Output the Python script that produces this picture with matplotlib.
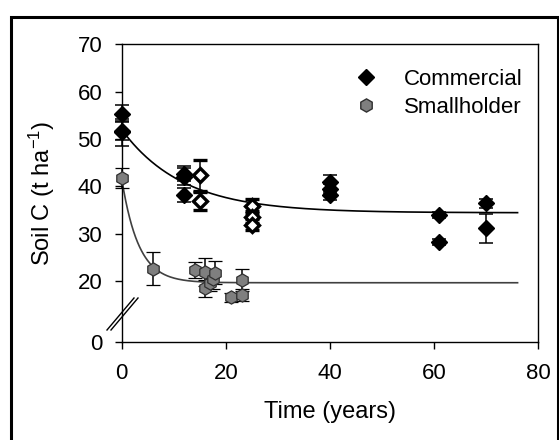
import numpy as np
import matplotlib
matplotlib.use("Agg")
import matplotlib.pyplot as plt
from matplotlib.lines import Line2D
from matplotlib.patches import Rectangle

plt.rcParams['font.family'] = ['Liberation Sans', 'DejaVu Sans']
plt.rcParams['mathtext.fontset'] = 'custom'
plt.rcParams['mathtext.rm'] = 'Liberation Sans'
plt.rcParams['mathtext.it'] = 'Liberation Sans:italic'

# commercial plantations, filled diamonds
com_x = [0, 0, 0, 12, 12, 12, 40, 40, 40, 61, 61, 70, 70]
com_y = [55.4, 51.8, 51.4, 42.7, 42.0, 38.1, 40.9, 39.5, 38.1, 33.9, 28.2, 36.4, 31.1]
com_err = [1.7, 2.0, 2.8, 1.5, 1.8, 1.5, 1.4, 1.0, 1.0, 0.6, 0.6, 1.0, 3.0]

# commercial, open diamonds
open_x = [15, 15, 25, 25, 25]
open_y = [42.3, 36.8, 35.9, 33.5, 31.9]
open_err = [3.2, 1.9, 1.5, 1.2, 1.2]

# smallholder, grey hexagons
sm_x = [0, 6, 14, 16, 16, 17, 17.5, 18, 21, 23, 23]
sm_y = [41.7, 22.6, 22.2, 21.9, 18.4, 19.6, 20.3, 21.7, 16.5, 20.2, 17.0]
sm_err = [2.1, 3.4, 1.7, 3.0, 1.8, 1.8, 2.0, 2.4, 1.0, 2.3, 1.3]

# fitted exponential decay curves: start, asymptote, rate
com_fit = (52.0, 34.4, 0.085)
sm_fit = (41.6, 19.6, 0.31)
t_end = 76


def fwd(y):
    y = np.asarray(y, dtype=float)
    return np.where(y >= 8, y, 7 + y / 8)


def inv(u):
    u = np.asarray(u, dtype=float)
    return np.where(u >= 8, u, (u - 7) * 8)


W, H = 559, 440
fig = plt.figure(figsize=(W / 100, H / 100), dpi=100)
left, right, top, bottom = 121.7, 538.4, 44.5, 342.3
ax = fig.add_axes([left / W, 1 - bottom / H, (right - left) / W, (bottom - top) / H])
ax.set_yscale('function', functions=(fwd, inv))

t = np.linspace(0, t_end, 400)
for (a, b, k), col in [(com_fit, 'black'), (sm_fit, '#404040')]:
    ax.plot(t, b + (a - b) * np.exp(-k * t), color=col, lw=1.2, zorder=2)

ekw = dict(ls='none', ecolor='black', elinewidth=1.1, capsize=4.7, capthick=1.1, clip_on=False)
ax.errorbar(sm_x, sm_y, yerr=sm_err, marker='h', ms=9.5, mfc='#7f7f7f', mec='#303030',
            mew=0.9, zorder=3, **ekw)
ax.errorbar(com_x, com_y, yerr=com_err, marker='D', ms=7.8, mfc='black', mec='black',
            zorder=4, **ekw)
ax.errorbar(open_x, open_y, yerr=open_err, marker='D', ms=7.6, mfc='white', mec='black',
            mew=2.4, zorder=4, **ekw)

ax.set_xlim(0, 80)
ax.set_ylim(0, 70)
ax.set_xticks([0, 20, 40, 60, 80])
ax.set_yticks([0, 20, 30, 40, 50, 60, 70])
ax.yaxis.set_minor_locator(matplotlib.ticker.NullLocator())
ax.tick_params(direction='out', length=5, width=1, labelsize=16)
ax.tick_params(axis='x', pad=10)
ax.tick_params(axis='y', pad=9)
for s in ax.spines.values():
    s.set_linewidth(1)

ax.set_xlabel('Time (years)', fontsize=17, labelpad=12)
ax.set_ylabel('Soil C (t ha$^{-1}$)', fontsize=17, labelpad=15)

handles = [Line2D([], [], marker='D', ls='none', color='black', ms=7.8),
           Line2D([], [], marker='h', ls='none', mfc='#7f7f7f', mec='#303030', ms=9.5)]
ax.legend(handles, ['Commercial', 'Smallholder'], loc='upper right',
          bbox_to_anchor=(1.01, 0.985), frameon=False, fontsize=16,
          handlelength=1.0, handletextpad=1.2, labelspacing=0.3)

# axis break marks
for dx in (0, 4):
    fig.add_artist(Line2D([(107 + dx) / W, (134 + dx) / W],
                          [1 - 330 / H, 1 - 298 / H], color='black', lw=1.0))

# outer frame
fig.add_artist(Rectangle((10.5 / W, -0.05), (557.5 - 10.5) / W, 1.05 - 17.5 / H,
                         fill=False, lw=2.2, ec='black', transform=fig.transFigure))

fig.savefig('out.png', dpi=100)
